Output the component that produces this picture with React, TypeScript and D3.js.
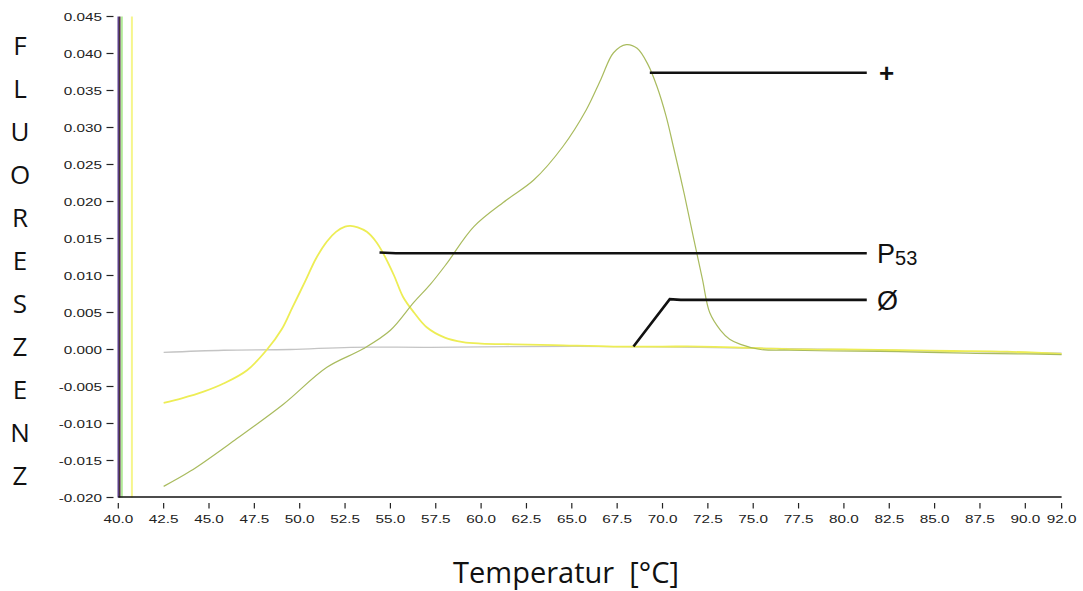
import React, { useRef, useEffect } from "react"
import * as d3 from "d3"

// Melting curve data (temperature in °C, -dF/dT)
const p53Temps = [42.5, 43.5, 44.7, 45.8, 47.1, 48.2, 49.0, 49.6, 50.3, 50.9, 51.5, 52.0, 52.5, 52.8, 53.2, 53.7, 54.2, 54.6, 55.2, 55.7, 56.3, 57.0, 58.0, 59.0, 60.0, 61.8, 64.0, 67.3, 70.0, 72.1, 75.0, 78.0, 80.0, 83.1, 86.0, 89.0, 92.0]
const p53Values = [-0.0072, -0.0066, -0.0057, -0.0046, -0.0028, 0.0, 0.0027, 0.0057, 0.0092, 0.0123, 0.0146, 0.0159, 0.0166, 0.0167, 0.0165, 0.0159, 0.0146, 0.0130, 0.0100, 0.0071, 0.0050, 0.0030, 0.0016, 0.0010, 0.0008, 0.0007, 0.0006, 0.0004, 0.0004, 0.0004, 0.0002, 0.0, 0.0, -0.0001, -0.0002, -0.0003, -0.0006]

const posTemps = [42.5, 44.0, 46.5, 49.1, 51.5, 53.5, 55.0, 56.3, 57.2, 58.1, 59.6, 61.4, 62.9, 64.5, 65.8, 66.6, 67.3, 68.0, 68.6, 69.2, 69.7, 70.2, 70.6, 71.2, 71.7, 72.2, 72.6, 73.2, 73.7, 74.3, 75.4, 77.0, 79.4, 83.0, 86.8, 90.0, 92.0]
const posValues = [-0.0185, -0.0164, -0.0121, -0.0074, -0.0024, 0.0001, 0.0026, 0.0064, 0.0088, 0.0116, 0.0166, 0.0202, 0.0229, 0.0274, 0.0324, 0.0365, 0.0401, 0.0412, 0.0407, 0.0385, 0.0355, 0.0315, 0.0274, 0.0210, 0.0152, 0.0095, 0.0050, 0.0026, 0.0014, 0.0007, 0.0, -0.0001, -0.0002, -0.0003, -0.0005, -0.0006, -0.0007]

const negTemps = [42.5, 45.8, 49.5, 52.8, 57.2, 62.0, 67.0, 72.0, 77.0, 82.0, 87.0, 92.0]
const negValues = [-0.0004, -0.0001, 0.0, 0.0003, 0.0003, 0.0004, 0.0004, 0.0003, 0.0001, -0.0001, -0.0003, -0.0005]

// traces squeezed at the left edge of the plot
const edgeTemps = [40.0, 40.08, 40.2, 40.75]
const edgeColors = ["#5b3f8c", "#4a3535", "#a6e88a", "#f6f68c"]

const xTicks = [40, 42.5, 45, 47.5, 50, 52.5, 55, 57.5, 60, 62.5, 65, 67.5, 70, 72.5, 75, 77.5, 80, 82.5, 85, 87.5, 90, 92]
const yTicks = [0.045, 0.04, 0.035, 0.03, 0.025, 0.02, 0.015, 0.01, 0.005, 0, -0.005, -0.01, -0.015, -0.02]

const yLabel = ["F", "L", "U", "O", "R", "E", "S", "Z", "E", "N", "Z"]

// annotation leader lines, in data coordinates
const plusLeader: [number, number][] = [[69.3, 0.0374], [81.26, 0.0374]]
const p53Leader: [number, number][] = [[54.4, 0.0131], [55.3, 0.0130], [81.26, 0.0130]]
const negLeader: [number, number][] = [[68.4, 0.0004], [70.4, 0.0068], [71.0, 0.0067], [81.26, 0.0067]]

const App: React.FC = () => {
  const svgRef = useRef<SVGSVGElement | null>(null)
  const width = 1083
  const height = 591

  useEffect(() => {
    const svg = d3.select(svgRef.current)
    svg.selectAll("*").remove()

    const x = d3.scaleLinear().domain([40, 92]).range([118.3, 1061.6])
    const y = d3.scaleLinear().domain([-0.02, 0.045]).range([497.5, 16.5])

    // edge traces
    svg.append("g")
      .selectAll("line")
      .data(edgeTemps)
      .enter()
      .append("line")
      .attr("x1", d => x(d))
      .attr("x2", d => x(d))
      .attr("y1", y(0.045))
      .attr("y2", y(-0.02))
      .attr("stroke", (_d, i) => edgeColors[i])
      .attr("stroke-width", (_d, i) => i === 3 ? 2 : 1.6)

    // curves
    const line = d3.line<[number, number]>()
      .x(d => x(d[0]))
      .y(d => y(d[1]))
      .curve(d3.curveCatmullRom.alpha(0.5))

    const series = [
      { t: negTemps, v: negValues, color: "#c4c4c4", w: 1.3 },
      { t: p53Temps, v: p53Values, color: "#eded55", w: 1.8 },
      { t: posTemps, v: posValues, color: "#a9bb5e", w: 1.2 },
    ]
    series.forEach(s => {
      svg.append("path")
        .datum(s.t.map((t, i) => [t, s.v[i]] as [number, number]))
        .attr("d", line)
        .attr("fill", "none")
        .attr("stroke", s.color)
        .attr("stroke-width", s.w)
    })

    // x axis
    svg.append("line")
      .attr("x1", x(40)).attr("x2", x(92))
      .attr("y1", 497).attr("y2", 497)
      .attr("stroke", "#111").attr("stroke-width", 1.6)

    const xt = svg.append("g")
      .selectAll("g")
      .data(xTicks)
      .enter()
      .append("g")
      .attr("transform", d => `translate(${x(d)},0)`)
    xt.append("line")
      .attr("y1", 503).attr("y2", 508.5)
      .attr("stroke", "#222").attr("stroke-width", 1.2)
    xt.append("text")
      .attr("transform", "translate(0,523) scale(1.33,1)")
      .attr("text-anchor", "middle")
      .attr("font-family", "'Liberation Sans', Arial, sans-serif")
      .attr("font-size", 11.5)
      .attr("fill", "#222")
      .text(d => d.toFixed(1))

    // y axis
    const yt = svg.append("g")
      .selectAll("g")
      .data(yTicks)
      .enter()
      .append("g")
      .attr("transform", d => `translate(0,${y(d)})`)
    yt.append("line")
      .attr("x1", 106.5).attr("x2", 113.5)
      .attr("stroke", "#222").attr("stroke-width", 1.2)
    yt.append("text")
      .attr("transform", "translate(102,4) scale(1.33,1)")
      .attr("text-anchor", "end")
      .attr("font-family", "'Liberation Sans', Arial, sans-serif")
      .attr("font-size", 11.5)
      .attr("fill", "#222")
      .text(d => d.toFixed(3))

    // leader lines
    const leader = d3.line<[number, number]>().x(d => x(d[0])).y(d => y(d[1]))
    ;[plusLeader, p53Leader, negLeader].forEach(pts => {
      svg.append("path")
        .attr("d", leader(pts))
        .attr("fill", "none")
        .attr("stroke", "#111")
        .attr("stroke-width", 2.6)
    })

    const labelFont = "'Liberation Sans', Arial, sans-serif"
    svg.append("text")
      .attr("x", 879).attr("y", 81.5)
      .attr("font-family", labelFont)
      .attr("font-size", 26)
      .attr("font-weight", "bold")
      .attr("fill", "#111")
      .text("+")

    const p53 = svg.append("text")
      .attr("x", 877).attr("y", 263)
      .attr("font-family", labelFont)
      .attr("font-size", 27)
      .attr("fill", "#111")
    p53.append("tspan").text("P")
    p53.append("tspan").attr("font-size", 20).attr("dy", 2).text("53")

    svg.append("text")
      .attr("x", 877).attr("y", 310)
      .attr("font-family", labelFont)
      .attr("font-size", 27)
      .attr("fill", "#111")
      .text("Ø")

    // axis titles
    svg.append("g")
      .selectAll("text")
      .data(yLabel)
      .enter()
      .append("text")
      .attr("x", 20)
      .attr("y", (_d, i) => 45 + i * 43 + 9.5)
      .attr("text-anchor", "middle")
      .attr("font-family", "'Open Sans', sans-serif")
      .attr("font-size", 26)
      .attr("fill", "#111")
      .text(d => d)

    svg.append("text")
      .attr("x", 566)
      .attr("y", 582.5)
      .attr("text-anchor", "middle")
      .attr("font-family", "'Open Sans', sans-serif")
      .attr("font-size", 29)
      .attr("fill", "#111")
      .text("Temperatur\u00a0\u00a0[°C]")
  }, [])

  return (
    <svg
      ref={svgRef}
      width={width}
      height={height}
      style={{ position: "absolute", left: 0, top: 0, background: "#fff" }}
    ></svg>
  )
}

export default App
